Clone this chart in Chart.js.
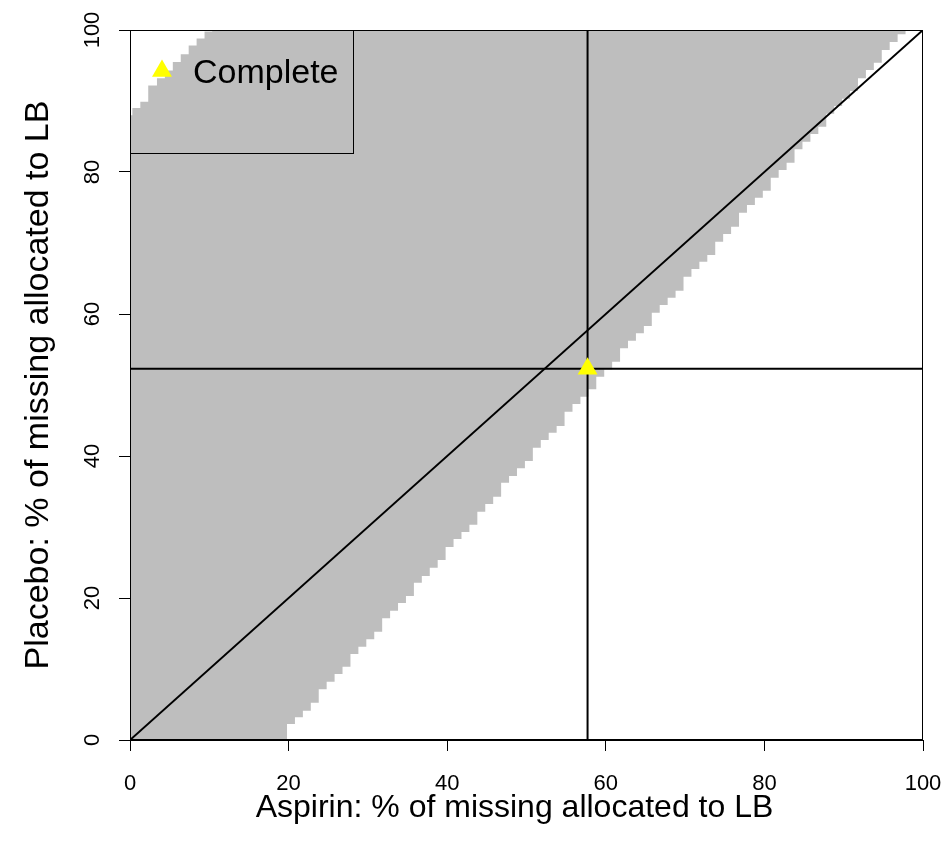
<!DOCTYPE html>
<html><head><meta charset="utf-8">
<script src="https://cdn.jsdelivr.net/npm/chart.js@4"></script>
<style>html,body{margin:0;padding:0;background:#fff}#wrap{width:944px;height:854px}</style>
</head><body><div id="wrap"><canvas id="c" width="944" height="854"></canvas></div>
<script>
// Lower-right edge of the shaded region (Aspirin %, lowest shaded Placebo %)
const lowerX = [0, 19.8, 20.8, 21.8, 22.8, 23.8, 24.8, 25.8, 26.8, 27.8, 28.8, 29.8, 30.8, 31.8, 32.8, 33.8, 34.8, 35.8, 36.8, 37.8, 38.8, 39.8, 40.8, 41.8, 42.8, 43.8, 44.8, 45.8, 46.8, 47.8, 48.8, 49.8, 50.8, 51.8, 52.8, 53.8, 54.8, 55.8, 56.8, 57.8, 58.8, 59.8, 60.8, 61.8, 62.8, 63.8, 64.8, 65.8, 66.8, 67.8, 68.8, 69.8, 70.8, 71.8, 72.8, 73.8, 74.8, 75.8, 76.8, 77.8, 78.8, 79.8, 80.8, 81.8, 82.8, 83.8, 84.8, 85.8, 86.8, 87.8, 88.8, 89.8, 90.8, 91.8, 92.8, 93.8, 94.8, 95.8, 96.8, 97.8, 100];
const lowerY = [0, 2.25, 3.2, 4.13, 5.25, 7.14, 8.21, 9.3, 10.32, 12.11, 13.14, 14.18, 15.25, 17.14, 18.21, 19.3, 20.28, 22.15, 23.1, 24.25, 25.35, 27.2, 28.3, 29.3, 30.3, 32.15, 33.24, 34.27, 36.24, 37.18, 38.27, 39.3, 41.17, 42.25, 43.28, 44.23, 46.24, 47.32, 48.35, 49.39, 51.17, 52.2, 53.28, 55.17, 56.24, 57.28, 58.31, 60.18, 61.27, 62.3, 63.28, 65.25, 66.34, 67.37, 68.31, 70.18, 71.27, 72.3, 74.27, 75.35, 76.38, 77.37, 79.2, 80.28, 81.3, 83.2, 84.27, 85.35, 86.38, 88.2, 89.3, 90.3, 91.4, 93.2, 94.37, 95.4, 97.2, 98.3, 99.4, 100, 100];
// Upper-left edge of the shaded region (Aspirin %, highest shaded Placebo %)
const upperX = [0, 0.3, 1.3, 2.3, 3.4, 4.4, 5.4, 6.4, 7.4, 8.4, 9.4, 10.4];
const upperY = [88.0, 89.0, 89.9, 92.2, 93.2, 94.3, 95.5, 96.6, 97.8, 98.8, 99.8, 100];
// Complete-case point and its reference lines
const completeX = [57.7];
const completeY = [52.3];
const diagX = [0, 100];
const diagY = [0, 100];
const axisTicks = [0, 20, 40, 60, 80, 100];
const legendLabels = ['Complete'];
const xTitle = 'Aspirin: % of missing allocated to LB';
const yTitle = 'Placebo: % of missing allocated to LB';

const FONT = "'Liberation Sans', Arial, Helvetica, sans-serif";
const pts = (xs, ys) => xs.map((x, i) => ({x, y: ys[i]}));

const framePlugin = {
  id: 'frame',
  afterDatasetsDraw(chart) {
    const {ctx, chartArea: a} = chart;
    ctx.save();
    ctx.strokeStyle = '#000';
    ctx.lineWidth = 1;
    ctx.strokeRect(a.left + 0.5, a.top + 0.5, a.right - a.left - 1, a.bottom - a.top - 1);
    // legend (top-left, transparent box)
    const bx = a.left, by = a.top, bw = 223, bh = 123;
    ctx.strokeRect(bx + 0.5, by + 0.5, bw, bh);
    ctx.fillStyle = '#FFFF00';
    ctx.beginPath();
    const r = 11.5, cx = bx + 32, cy = by + 41;
    ctx.moveTo(cx, cy - r);
    ctx.lineTo(cx + r * Math.sin(2 * Math.PI / 3), cy - r * Math.cos(2 * Math.PI / 3));
    ctx.lineTo(cx + r * Math.sin(4 * Math.PI / 3), cy - r * Math.cos(4 * Math.PI / 3));
    ctx.closePath();
    ctx.fill();
    ctx.fillStyle = '#000';
    ctx.font = '34px ' + FONT;
    ctx.textBaseline = 'alphabetic';
    ctx.textAlign = 'left';
    ctx.fillText(legendLabels[0], bx + 63, by + 53);
    // x-axis title (slightly left of the plot centre, as in the original)
    ctx.font = '32px ' + FONT;
    ctx.textAlign = 'center';
    ctx.textBaseline = 'middle';
    ctx.fillText(xTitle, (a.left + a.right) / 2 - 12, a.bottom + 68);
    ctx.restore();
  }
};

const tickFont = {family: FONT, size: 22};

new Chart(document.getElementById('c'), {
  type: 'line',
  data: {
    datasets: [
      {data: pts(lowerX, lowerY), stepped: 'before', fill: 'end', backgroundColor: '#BEBEBE',
       borderColor: 'rgba(0,0,0,0)', borderWidth: 0, pointRadius: 0, order: 10},
      {data: pts(upperX, upperY), stepped: 'before', fill: 'end', backgroundColor: '#FFFFFF',
       borderColor: 'rgba(0,0,0,0)', borderWidth: 0, pointRadius: 0, order: 9},
      {data: pts(diagX, diagY), borderColor: '#000', borderWidth: 2, pointRadius: 0, fill: false, order: 5},
      {data: [{x: completeX[0], y: 0}, {x: completeX[0], y: 100}], borderColor: '#000', borderWidth: 2, pointRadius: 0, fill: false, order: 4},
      {data: [{x: 0, y: completeY[0]}, {x: 100, y: completeY[0]}], borderColor: '#000', borderWidth: 2, pointRadius: 0, fill: false, order: 4},
      {data: pts(completeX, completeY), showLine: false, pointStyle: 'triangle', pointRadius: 11.5,
       pointBackgroundColor: '#FFFF00', pointBorderWidth: 0, pointBorderColor: 'rgba(0,0,0,0)', order: 1}
    ]
  },
  options: {
    responsive: false,
    animation: false,
    devicePixelRatio: 1,
    layout: {padding: {top: 30, right: 21, left: 0, bottom: 0}},
    plugins: {legend: {display: false}, tooltip: {enabled: false}},
    scales: {
      x: {
        type: 'linear', min: 0, max: 100, position: 'bottom',
        afterBuildTicks: s => { s.ticks = axisTicks.map(v => ({value: v})); },
        afterFit: s => { s.height = 114; s.paddingLeft = 0; s.paddingRight = 0; },
        grid: {drawOnChartArea: false, drawTicks: true, tickLength: 11, tickColor: '#000', tickWidth: 1},
        border: {display: true, color: '#000', width: 1},
        ticks: {font: tickFont, color: '#000', padding: 20, maxRotation: 0},
        title: {display: false}
      },
      y: {
        type: 'linear', min: 0, max: 100, position: 'left',
        afterBuildTicks: s => { s.ticks = axisTicks.map(v => ({value: v})); },
        afterFit: s => { s.width = 130; s.paddingTop = 0; s.paddingBottom = 0; },
        grid: {drawOnChartArea: false, drawTicks: true, tickLength: 11, tickColor: '#000', tickWidth: 1},
        border: {display: true, color: '#000', width: 1},
        ticks: {font: tickFont, color: '#000', padding: 8, minRotation: 90, maxRotation: 90, crossAlign: 'center'},
        title: {display: true, text: yTitle, font: {family: FONT, size: 34}, color: '#000', padding: {top: 18, bottom: 0}}
      }
    }
  },
  plugins: [framePlugin]
});
</script>
</body></html>
